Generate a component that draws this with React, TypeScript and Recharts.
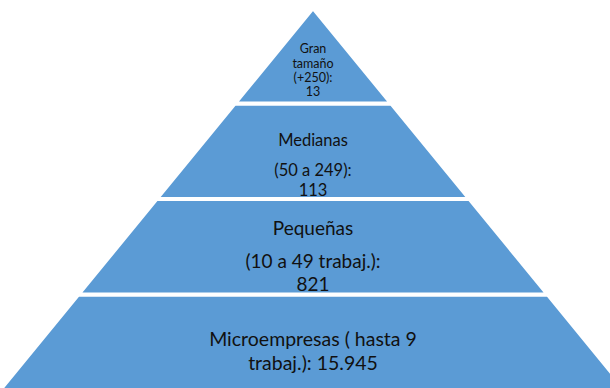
import { FunnelChart, Funnel, Trapezoid } from "recharts";

// layers from top (apex) to base
const categories = ["Gran tamaño", "Medianas", "Pequeñas", "Microempresas"];
const companies = [13, 113, 821, 15945];
// text as it is broken inside each layer
const labelLines = [
  ["Gran", "tamaño", "(+250):", "13"],
  ["Medianas", "(50 a 249):", "113"],
  ["Pequeñas", "(10 a 49 trabaj.):", "821"],
  ["Microempresas ( hasta 9", "trabaj.): 15.945"],
];
// pyramid step of each layer (base width grows one step per layer)
const levels = [1, 2, 3, 4];

// funnel is reversed, so the first row is drawn at the bottom
const chartData = categories
  .map((name, i) => ({ name, companies: companies[i], level: levels[i], layer: i }))
  .reverse();

const textStyle = [
  { size: 12.5, lines: [40, 55, 69, 83] },
  { size: 16.5, lines: [36, 66, 86] },
  { size: 19, lines: [28, 61, 84] },
  { size: 19.5, lines: [44, 68] },
];

function PyramidLayer(props: any) {
  const { x, y, upperWidth } = props;
  const layer = props.payload?.layer ?? props.layer;
  const st = textStyle[layer];
  const cx = x + upperWidth / 2;
  return (
    <g>
      <Trapezoid {...props} />
      {labelLines[layer].map((line, i) => (
        <text
          key={i}
          x={cx}
          y={y + st.lines[i]}
          textAnchor="middle"
          dominantBaseline="central"
          fontSize={st.size}
          fontFamily="Lato, 'Noto Sans', sans-serif"
          fill="#111"
        >
          {line}
        </text>
      ))}
    </g>
  );
}

export default function App() {
  return (
    <div
      style={{
        position: "fixed",
        left: 0,
        top: 0,
        width: 610,
        height: 388,
        overflow: "hidden",
        background: "#fff",
      }}
    >
      <div style={{ position: "absolute", left: 0, top: 8 }}>
        <FunnelChart
          width={626}
          height={382}
          margin={{ top: 0, right: 0, bottom: 0, left: 0 }}
        >
          <Funnel
            data={chartData}
            dataKey="level"
            nameKey="name"
            reversed
            fill="#5B9BD5"
            stroke="#ffffff"
            strokeWidth={4}
            shape={PyramidLayer}
            isAnimationActive={false}
          />
        </FunnelChart>
      </div>
    </div>
  );
}
